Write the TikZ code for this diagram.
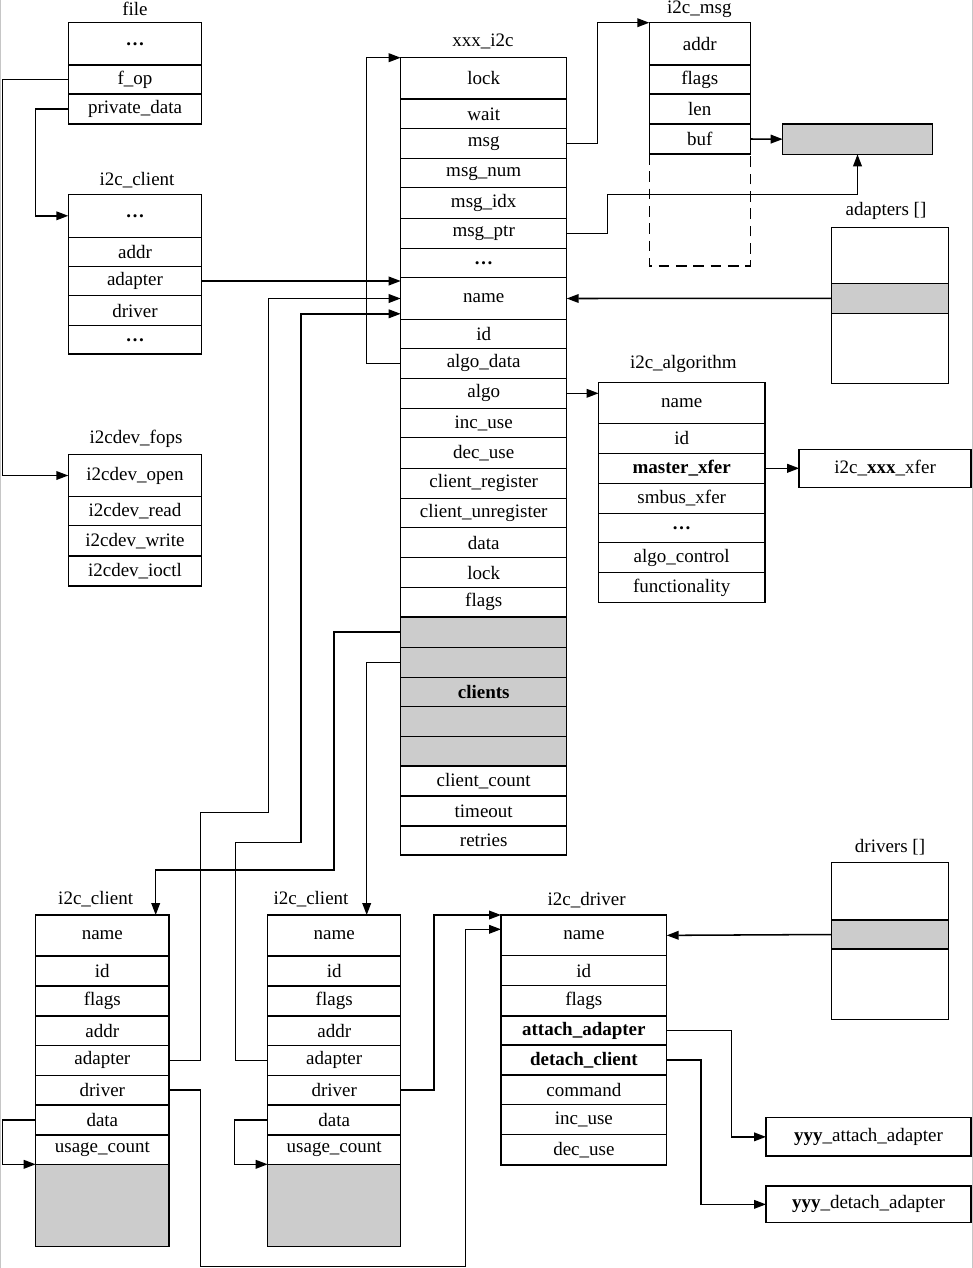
\documentclass[tikz,border=0pt]{standalone}
\usepackage{fontspec}
\setmainfont{Liberation Serif}
\usetikzlibrary{arrows.meta}
\newcommand\fs{\fontsize{14.25}{16}\selectfont}
\newcommand\fld[7][]{\node[fld,#1,minimum width={(#5-#3)*0.75pt},minimum height={(#6-#4)*0.75pt}] (#2) at ({(#3+#5)/2},{(#4+#6)/2}) {#7};}
\tikzset{
  fld/.style={draw, line width=1.15pt, inner sep=0pt, outer sep=0pt, font=\fs, align=center},
  shd/.style={fill=black!20},
  arr/.style={line width=1.15pt, -{Triangle[length=9pt,width=6.5pt]}},
  ln/.style={line width=1.15pt},
  ttl/.style={font=\fs, inner sep=0pt},
}
\begin{document}
\begin{tikzpicture}[x=0.75pt,y=-0.75pt]
\useasboundingbox (0,0) rectangle (973,1268);
\fill[white] (0,0) rectangle (973,1268);
\draw[gray!45, line width=1.2pt] (0.6,0) -- (0.6,1268);
\draw[gray!45, line width=1.2pt] (972.4,0) -- (972.4,1268);

% ---------- file ----------
\node[ttl] (t_file) at (135,9) {file};
\fld{f_dots}{68.3}{22.7}{201.7}{65}{\textbf{…}}
\fld{f_fop}{68.3}{65}{201.7}{94}{f\_op}
\fld{f_pdata}{68.3}{94}{201.7}{124}{private\_data}

% ---------- top i2c_client ----------
\node[ttl] (t_cA) at (137,180) {i2c\_client};
\fld{cA_d1}{68.3}{194.3}{201.7}{237.3}{\textbf{…}}
\fld{cA_addr}{68.3}{237.3}{201.7}{266.3}{addr}
\fld{cA_adapter}{68.3}{266.3}{201.7}{295.7}{adapter}
\fld{cA_driver}{68.3}{295.7}{201.7}{325.7}{driver}
\fld{cA_d2}{68.3}{325.7}{201.7}{354}{\textbf{…}}

% ---------- i2cdev_fops ----------
\node[ttl] (t_fops) at (136,439) {i2cdev\_fops};
\fld{o_open}{68.3}{454.3}{201.7}{496.7}{i2cdev\_open}
\fld{o_read}{68.3}{496.7}{201.7}{525.7}{i2cdev\_read}
\fld{o_write}{68.3}{525.7}{201.7}{556}{i2cdev\_write}
\fld{o_ioctl}{68.3}{556}{201.7}{586}{i2cdev\_ioctl}

% ---------- xxx_i2c ----------
\node[ttl] (t_x) at (483,41.7) {xxx\_i2c};
\fld{x_lock}{400.7}{57.7}{566.7}{99}{lock}
\fld{x_wait}{400.7}{99}{566.7}{128.7}{wait}
\fld{x_msg}{400.7}{128.7}{566.7}{158.7}{msg}
\fld{x_msgnum}{400.7}{158.7}{566.7}{187.7}{msg\_num}
\fld{x_msgidx}{400.7}{187.7}{566.7}{218.3}{msg\_idx}
\fld{x_msgptr}{400.7}{218.3}{566.7}{248.7}{msg\_ptr}
\fld{x_dots}{400.7}{248.7}{566.7}{277.7}{\textbf{…}}
\fld{x_name}{400.7}{277.7}{566.7}{319.3}{name}
\fld{x_id}{400.7}{319.3}{566.7}{348.3}{id}
\fld{x_algodata}{400.7}{348.3}{566.7}{378.3}{algo\_data}
\fld{x_algo}{400.7}{378.3}{566.7}{408.3}{algo}
\fld{x_incuse}{400.7}{408.3}{566.7}{437.7}{inc\_use}
\fld{x_decuse}{400.7}{437.7}{566.7}{468.3}{dec\_use}
\fld{x_creg}{400.7}{468.3}{566.7}{498.3}{client\_register}
\fld{x_cunreg}{400.7}{498.3}{566.7}{527.7}{client\_unregister}
\fld{x_data}{400.7}{527.7}{566.7}{557.7}{data}
\fld{x_lock2}{400.7}{557.7}{566.7}{587.7}{lock}
\fld{x_flags}{400.7}{587.7}{566.7}{617}{flags}
\fld[shd]{x_c1}{400.7}{617}{566.7}{647.3}{}
\fld[shd]{x_c2}{400.7}{647.3}{566.7}{677.3}{}
\fld[shd]{x_c3}{400.7}{677.3}{566.7}{706.7}{\textbf{clients}}
\fld[shd]{x_c4}{400.7}{706.7}{566.7}{736.7}{}
\fld[shd]{x_c5}{400.7}{736.7}{566.7}{766}{}
\fld{x_ccount}{400.7}{766}{566.7}{796}{client\_count}
\fld{x_timeout}{400.7}{796}{566.7}{826}{timeout}
\fld{x_retries}{400.7}{826}{566.7}{855}{retries}

% ---------- i2c_msg ----------
\node[ttl] (t_msg) at (699.3,9) {i2c\_msg};
\fld{m_addr}{649.3}{22.7}{750.3}{65}{addr}
\fld{m_flags}{649.3}{65}{750.3}{94}{flags}
\fld{m_len}{649.3}{94}{750.3}{124}{len}
\fld{m_buf}{649.3}{124}{750.3}{154}{buf}
\draw[ln, dash pattern=on 8pt off 5pt] (m_buf.south west) -- ++(0,112) -| (m_buf.south east);
\fld[shd]{buf}{782.7}{124}{932.3}{154.3}{}

% ---------- adapters [] ----------
\node[ttl] (t_ad) at (886,210.7) {adapters []};
\fld{ad_top}{831.7}{227.3}{948.3}{283.3}{}
\fld[shd]{ad_sel}{831.7}{283.3}{948.3}{313.3}{}
\fld{ad_bot}{831.7}{313.3}{948.3}{383.3}{}

% ---------- i2c_algorithm ----------
\node[ttl] (t_alg) at (683.3,364) {i2c\_algorithm};
\fld{a_name}{598.6}{382.7}{764.8}{423.3}{name}
\fld{a_id}{598.6}{423.3}{764.8}{453.3}{id}
\fld{a_master}{598.6}{453.3}{764.8}{483.3}{\textbf{master\_xfer}}
\fld{a_smbus}{598.6}{483.3}{764.8}{513.3}{smbus\_xfer}
\fld{a_dots}{598.6}{513.3}{764.8}{542.7}{\textbf{…}}
\fld{a_ctl}{598.6}{542.7}{764.8}{572.7}{algo\_control}
\fld{a_func}{598.6}{572.7}{764.8}{602.3}{functionality}
\fld{xfer}{799.2}{449.3}{971}{487.3}{i2c\_\textbf{xxx}\_xfer}

% ---------- bottom-left i2c_client ----------
\node[ttl] (t_bL) at (95.7,899.3) {i2c\_client};
\fld{bL_name}{35.7}{915}{169}{956}{name}
\fld{bL_id}{35.7}{956}{169}{986}{id}
\fld{bL_flags}{35.7}{986}{169}{1016}{flags}
\fld{bL_addr}{35.7}{1016}{169}{1045.3}{addr}
\fld{bL_adapter}{35.7}{1045.3}{169}{1075.3}{adapter}
\fld{bL_driver}{35.7}{1075.3}{169}{1105}{driver}
\fld{bL_data}{35.7}{1105}{169}{1135}{data}
\fld{bL_usage}{35.7}{1135}{169}{1164.3}{usage\_count}
\fld[shd]{bL_shade}{35.7}{1164.3}{169}{1246.7}{}

% ---------- bottom-right i2c_client ----------
\node[ttl] (t_bR) at (311,899.3) {i2c\_client};
\fld{bR_name}{267.7}{915}{400.7}{956}{name}
\fld{bR_id}{267.7}{956}{400.7}{986}{id}
\fld{bR_flags}{267.7}{986}{400.7}{1016}{flags}
\fld{bR_addr}{267.7}{1016}{400.7}{1045.3}{addr}
\fld{bR_adapter}{267.7}{1045.3}{400.7}{1075.3}{adapter}
\fld{bR_driver}{267.7}{1075.3}{400.7}{1105}{driver}
\fld{bR_data}{267.7}{1105}{400.7}{1135}{data}
\fld{bR_usage}{267.7}{1135}{400.7}{1164.3}{usage\_count}
\fld[shd]{bR_shade}{267.7}{1164.3}{400.7}{1246.7}{}

% ---------- i2c_driver ----------
\node[ttl] (t_drv) at (586.7,900) {i2c\_driver};
\fld{d_name}{501}{915}{666.7}{955.7}{name}
\fld{d_id}{501}{955.7}{666.7}{985.7}{id}
\fld{d_flags}{501}{985.7}{666.7}{1016}{flags}
\fld{d_attach}{501}{1016}{666.7}{1045}{\textbf{attach\_adapter}}
\fld{d_detach}{501}{1045}{666.7}{1075}{\textbf{detach\_client}}
\fld{d_cmd}{501}{1075}{666.7}{1104.3}{command}
\fld{d_inc}{501}{1104.3}{666.7}{1134.3}{inc\_use}
\fld{d_dec}{501}{1134.3}{666.7}{1165}{dec\_use}

% ---------- drivers [] ----------
\node[ttl] (t_drs) at (890,846.7) {drivers []};
\fld{dr_top}{831.7}{862.7}{948.3}{920}{}
\fld[shd]{dr_sel}{831.7}{920}{948.3}{949}{}
\fld{dr_bot}{831.7}{949}{948.3}{1019.3}{}

% ---------- yyy functions ----------
\fld{yatt}{766}{1117.7}{971}{1156}{\textbf{yyy}\_attach\_adapter}
\fld{ydet}{766}{1186}{971}{1222.7}{\textbf{yyy}\_detach\_adapter}

% ---------- helper coordinates ----------
\coordinate (mp1) at (857.5,194.3);
\coordinate (xn3) at (400.7,313.8);
\coordinate (bLin) at (155.7,915);
\coordinate (bRin) at (366.7,915);
\coordinate (dn2) at (501,929.3);
\coordinate (k1) at (268.3,812.7);
\coordinate (k2) at (301,842.3);
\coordinate (k3) at (155.7,870);
\coordinate (k4) at (465.7,1266.7);

% ---------- connectors ----------
\draw[arr] (f_fop.west) -- ++(-65.6,0) |- (o_open.west);
\draw[arr] (f_pdata.west) -- ++(-32.6,0) |- (cA_d1.west);
\draw[arr] (cA_adapter.east) -- (cA_adapter.east -| x_name.west);
\draw[arr] (x_algodata.west) -- ++(-34,0) |- (x_lock.north west);
\draw[arr] (x_msg.east) -- ++(31,0) |- (m_addr.north west);
\draw[arr] (x_msgptr.east) -- ++(40.6,0) |- (mp1) -- (buf.south);
\draw[arr] (m_buf.east) -- (buf.west);
\draw[arr] (ad_sel.west) -- (x_name.east);
\draw[arr] (x_algo.east) -- (x_algo.east -| a_name.west);
\draw[arr] (a_master.east) -- (xfer.west);
\draw[arr] (bL_adapter.east) -- ++(31.7,0) |- (k1) |- (x_name.west);
\draw[arr] (bR_adapter.west) -- ++(-32,0) |- (k2) |- (xn3);
\draw[arr] (x_c1.west) -- ++(-66.7,0) |- (k3) -- (bLin);
\draw[arr] (x_c2.west) -- ++(-34,0) -- (bRin);
\draw[arr] (bL_data.west) -- ++(-33,0) |- (bL_shade.north west);
\draw[arr] (bR_data.west) -- ++(-33.4,0) |- (bR_shade.north west);
\draw[arr] (bL_driver.east) -- ++(31.7,0) |- (k4) |- (dn2);
\draw[arr] (bR_driver.east) -- ++(33.3,0) |- (d_name.north west);
\draw[arr] (dr_sel.west) -- (d_name.east);
\draw[arr] (d_attach.east) -- ++(65,0) |- (yatt.west);
\draw[arr] (d_detach.east) -- ++(34.3,0) |- (ydet.west);
\end{tikzpicture}
\end{document}
